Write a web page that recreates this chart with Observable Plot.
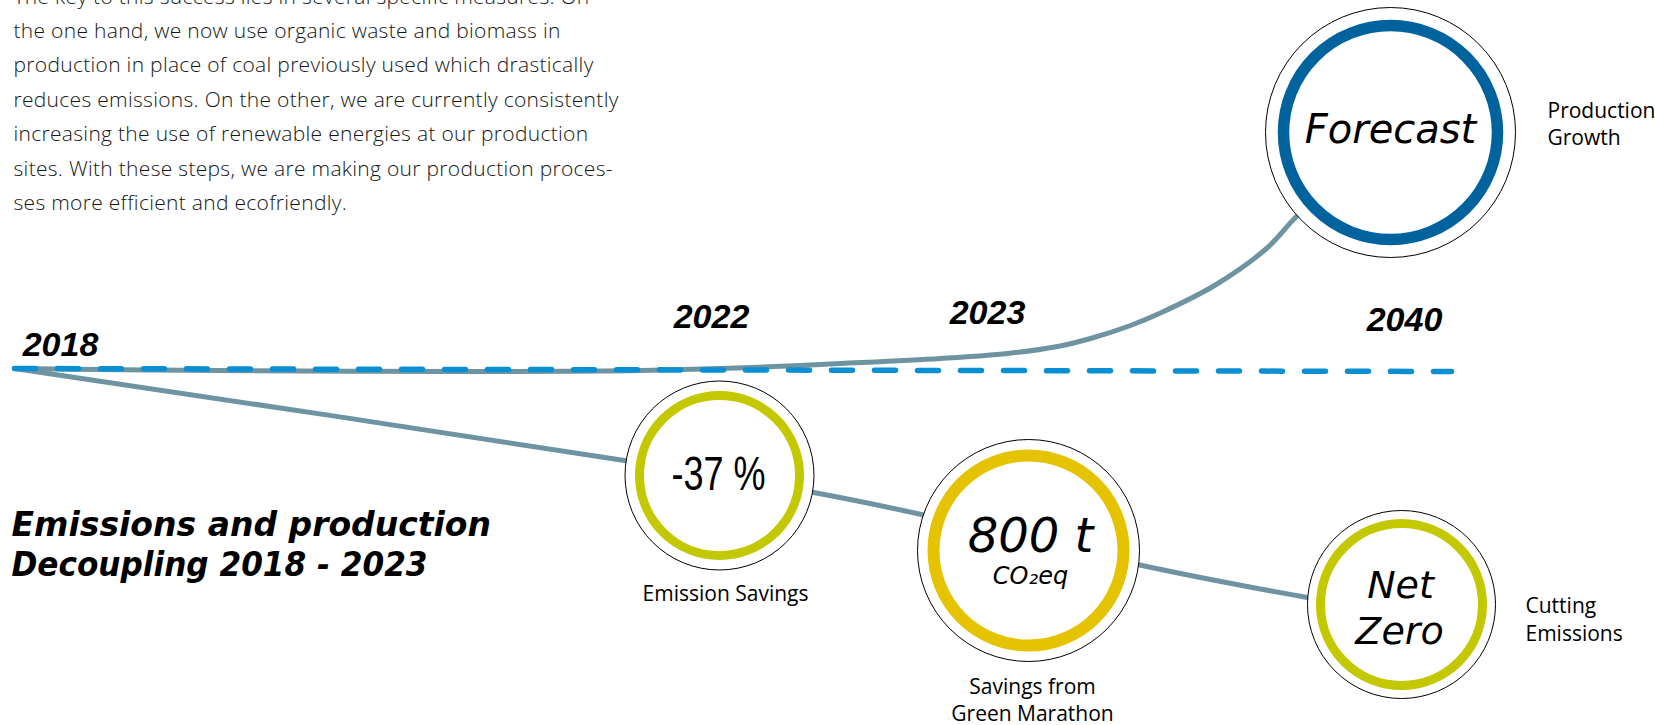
<!DOCTYPE html>
<html>
<head>
<meta charset="utf-8">
<script src="https://cdn.jsdelivr.net/npm/d3@7"></script>
<script src="https://cdn.jsdelivr.net/npm/@observablehq/plot@0.6"></script>
<style>
  html, body { margin: 0; padding: 0; background: #ffffff; }
  #chart svg { display: block; }
</style>
</head>
<body>
<div id="chart"></div>
<script>
// ---------- DATA (in picture units) ----------
const paragraphLines = [
  "The key to this success lies in several specific measures. On",
  "the one hand, we now use organic waste and biomass in",
  "production in place of coal previously used which drastically",
  "reduces emissions. On the other, we are currently consistently",
  "increasing the use of renewable energies at our production",
  "sites. With these steps, we are making our production proces-",
  "ses more efficient and ecofriendly."
];
const paragraphBaselines = [3, 37.4, 71.8, 106.2, 140.6, 175, 209.4];

const titleLines = ["Emissions and production", "Decoupling 2018 - 2023"];
const titleBaselines = [535, 575];

const years = ["2018", "2022", "2023", "2040"];
const yearX = [60, 711, 987, 1404];
const yearY = [355, 327, 323, 330];

// production growth curve
const productionX = [14, 150, 300, 450, 640, 750, 840, 940, 1007, 1057, 1090, 1130, 1161, 1214, 1266, 1296, 1330];
const productionY = [368, 369.5, 370.5, 371, 370, 367, 363, 358, 353, 346, 338, 325, 312, 285, 248, 216, 187];

// emissions curve
const emissionsX = [14, 624, 719, 813, 921, 1028, 1137, 1200, 1307, 1401];
const emissionsY = [368, 460, 477, 492, 514, 539, 564, 577, 597, 612];

// dashed reference line (2018 level)
const baselineX = [14, 1451];
const baselineY = [368, 371];

// milestones (circles)
const milestoneKeys = ["forecast", "savings", "marathon", "netzero"];
const milestoneX = [1390, 719, 1028, 1401];
const milestoneY = [132, 475, 550, 604];
const milestoneOuterR = [125, 94.5, 111, 94];
const milestoneRingR = [107, 80, 95, 81];

// circle texts
const bigTexts = ["Forecast", "-37 %", "800 t", "CO\u2082eq", "Net", "Zero"];
const bigTextX = [1390, 718, 1030, 1030, 1400, 1399];
const bigTextY = [142, 489, 551, 583, 597, 643];

// side / caption labels
const captionTexts = ["Emission Savings", "Savings from", "Green Marathon"];
const captionX = [725, 1032, 1032];
const captionY = [600, 693, 720];
const sideTexts = ["Production", "Growth", "Cutting", "Emissions"];
const sideX = [1547, 1547, 1525, 1525];
const sideY = [117, 144, 612, 640];

// ---------- STYLES ----------
const lineColor = "#6e94a1";
const dashColor = "#0a8fd2";
const ringColors = ["#00639e", "#c4c800", "#e6c300", "#c4c800"];
const ringWidths = [11.5, 9, 12, 9];
const bigFonts = [
  {size: 40, family: "DejaVu Sans", style: "italic", weight: 400},
  {size: 48, family: "'Liberation Sans', sans-serif", style: "normal", weight: 400},
  {size: 48, family: "DejaVu Sans", style: "italic", weight: 400},
  {size: 24, family: "DejaVu Sans", style: "italic", weight: 400},
  {size: 38, family: "DejaVu Sans", style: "italic", weight: 400},
  {size: 38, family: "DejaVu Sans", style: "italic", weight: 400}
];
// horizontal fitting for a few texts whose original typeface is narrower
const fitWidths = new Map([["-37 %", 94], ["Decoupling 2018 - 2023", 416]]);

// ---------- TABLES ----------
const paragraph = paragraphLines.map((t, i) => ({t, x: 13, y: paragraphBaselines[i]}));
const title = titleLines.map((t, i) => ({t, x: 11, y: titleBaselines[i]}));
const yearData = years.map((t, i) => ({t, x: yearX[i], y: yearY[i]}));
const production = productionX.map((x, i) => ({x, y: productionY[i]}));
const emissions = emissionsX.map((x, i) => ({x, y: emissionsY[i]}));
const baseline = baselineX.map((x, i) => ({x, y: baselineY[i]}));
const milestones = milestoneKeys.map((k, i) => ({k, x: milestoneX[i], y: milestoneY[i], ro: milestoneOuterR[i], rr: milestoneRingR[i]}));
const captions = captionTexts.map((t, i) => ({t, x: captionX[i], y: captionY[i]}));
const sides = sideTexts.map((t, i) => ({t, x: sideX[i], y: sideY[i]}));

const marks = [
  Plot.line(production, {x: "x", y: "y", curve: "catmull-rom", stroke: lineColor, strokeWidth: 5}),
  Plot.line(emissions, {x: "x", y: "y", curve: "catmull-rom", stroke: lineColor, strokeWidth: 5}),
  Plot.line(baseline, {x: "x", y: "y", stroke: dashColor, strokeWidth: 5.5, strokeDasharray: "21,22"}),
  Plot.dot(milestones, {x: "x", y: "y", r: "ro", fill: "white", stroke: "black", strokeWidth: 1})
];
milestones.forEach((m, i) => {
  marks.push(Plot.dot([m], {x: "x", y: "y", r: "rr", fill: "none", stroke: ringColors[i], strokeWidth: ringWidths[i]}));
});
bigTexts.forEach((t, i) => {
  const f = bigFonts[i];
  marks.push(Plot.text([{t, x: bigTextX[i], y: bigTextY[i]}], {
    x: "x", y: "y", text: "t", textAnchor: "middle", lineAnchor: "bottom",
    fontSize: f.size, fontFamily: f.family, fontStyle: f.style, fontWeight: f.weight, fill: "#000"
  }));
});
marks.push(
  Plot.text(paragraph, {x: "x", y: "y", text: "t", textAnchor: "start", lineAnchor: "bottom",
    fontSize: 21, fontFamily: "'Open Sans', sans-serif", fontWeight: 300, fill: "#161616"}),
  Plot.text(title, {x: "x", y: "y", text: "t", textAnchor: "start", lineAnchor: "bottom",
    fontSize: 33, fontFamily: "'DejaVu Sans', sans-serif", fontWeight: 700, fontStyle: "italic", fill: "#000"}),
  Plot.text(yearData, {x: "x", y: "y", text: "t", textAnchor: "middle", lineAnchor: "bottom",
    fontSize: 34, fontFamily: "'Liberation Sans', sans-serif", fontWeight: 700, fontStyle: "italic", fill: "#000"}),
  Plot.text(captions, {x: "x", y: "y", text: "t", textAnchor: "middle", lineAnchor: "bottom",
    fontSize: 21, fontFamily: "'Open Sans', sans-serif", fontWeight: 400, fill: "#000"}),
  Plot.text(sides, {x: "x", y: "y", text: "t", textAnchor: "start", lineAnchor: "bottom",
    fontSize: 21, fontFamily: "'Open Sans', sans-serif", fontWeight: 400, fill: "#000"})
);

const chart = Plot.plot({
  width: 1655,
  height: 725,
  margin: 0,
  x: {type: "linear", domain: [0, 1655], range: [0, 1655], axis: null},
  y: {type: "linear", domain: [0, 725], range: [0, 725], axis: null},
  r: {type: "linear", domain: [0, 200], range: [0, 200]},
  style: {background: "white", overflow: "visible"},
  marks
});
document.getElementById("chart").appendChild(chart);

// typographic fine-tuning
const paraSet = new Set(paragraphLines);
d3.select(chart).selectAll("text").each(function () {
  const s = this.textContent;
  if (paraSet.has(s)) this.setAttribute("letter-spacing", "0.3");
  if (fitWidths.has(s)) {
    this.setAttribute("textLength", fitWidths.get(s));
    this.setAttribute("lengthAdjust", "spacingAndGlyphs");
  }
});
</script>
</body>
</html>
